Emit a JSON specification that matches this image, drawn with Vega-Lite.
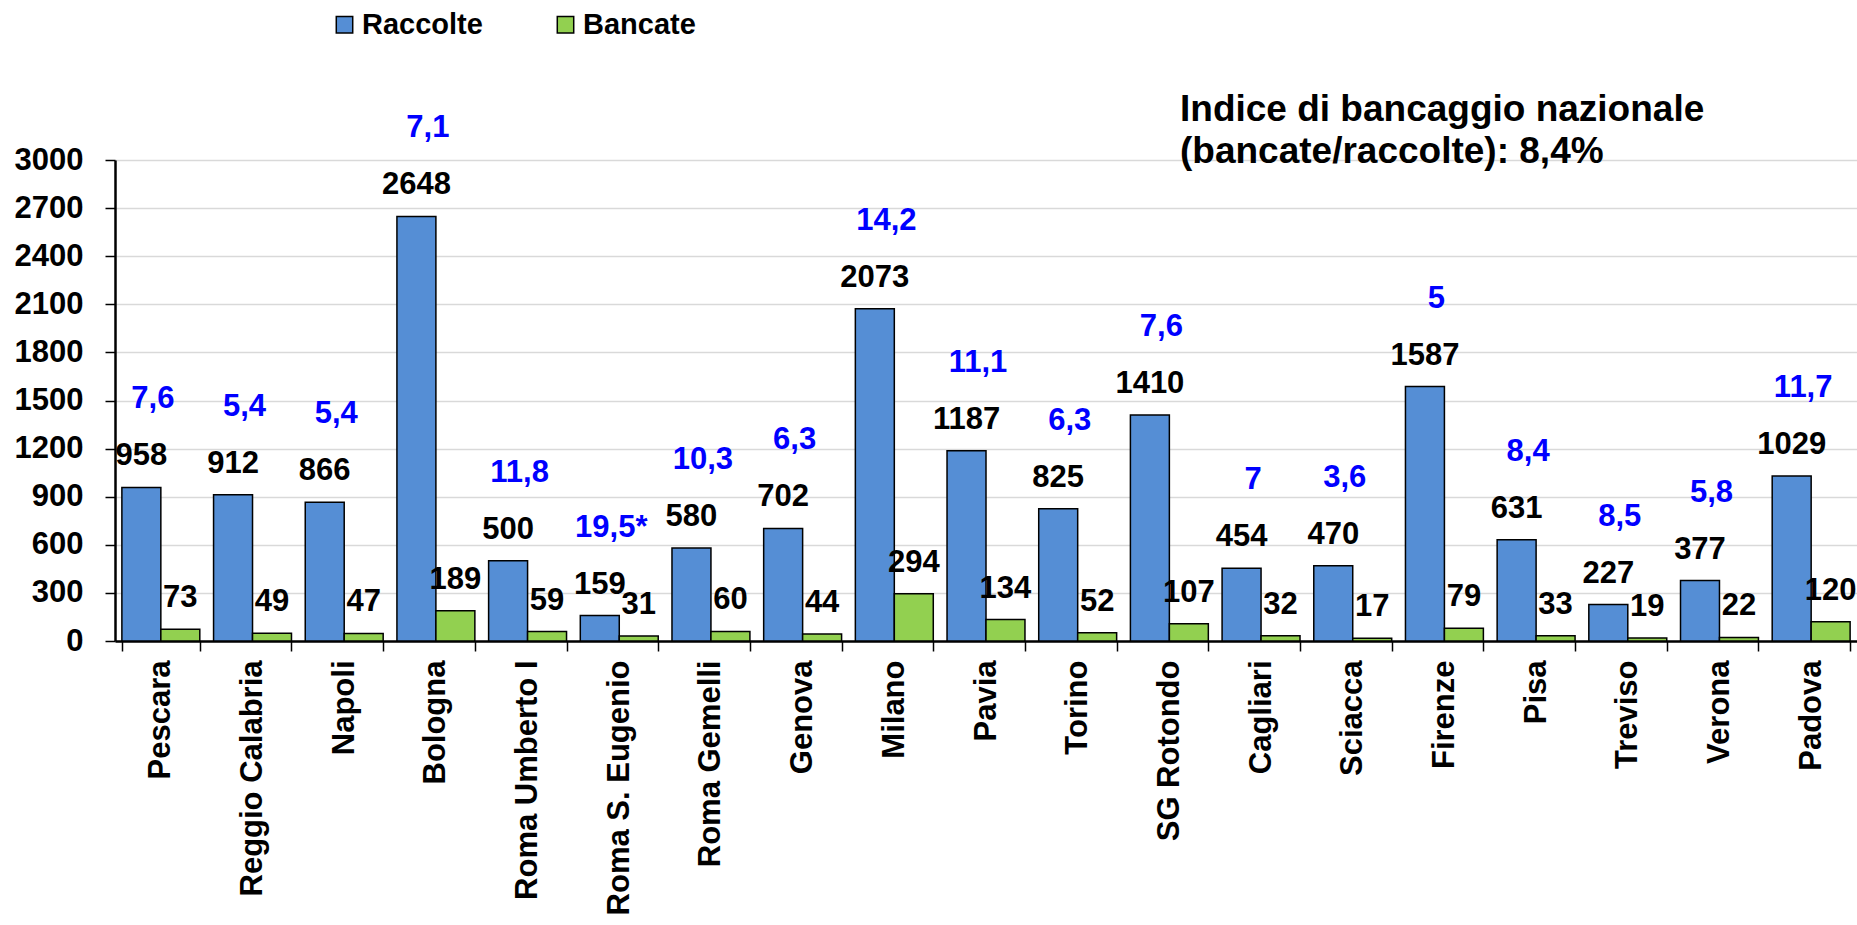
{
  "$schema": "https://vega.github.io/schema/vega-lite/v6.json",
  "autosize": {"type": "none"},
  "padding": {"left": 115, "top": 160, "right": 0, "bottom": 284},
  "width": 1742,
  "height": 481,
  "background": "white",
  "title": {
    "text": ["Indice di bancaggio nazionale", "(bancate/raccolte): 8,4%"],
    "anchor": "start",
    "frame": "group",
    "orient": "top",
    "dx": 1065,
    "dy": 161,
    "offset": 0,
    "baseline": "top",
    "font": "Liberation Sans",
    "fontSize": 37,
    "fontWeight": "bold",
    "lineHeight": 42,
    "color": "black"
  },
  "config": {
    "view": {"stroke": null},
    "font": "Liberation Sans"
  },
  "data": {
    "values": [
      {"citta": "Pescara", "serie": "Raccolte", "valore": 958, "indice": "7,6"},
      {"citta": "Pescara", "serie": "Bancate", "valore": 73},
      {"citta": "Reggio Calabria", "serie": "Raccolte", "valore": 912, "indice": "5,4"},
      {"citta": "Reggio Calabria", "serie": "Bancate", "valore": 49},
      {"citta": "Napoli", "serie": "Raccolte", "valore": 866, "indice": "5,4"},
      {"citta": "Napoli", "serie": "Bancate", "valore": 47},
      {"citta": "Bologna", "serie": "Raccolte", "valore": 2648, "indice": "7,1"},
      {"citta": "Bologna", "serie": "Bancate", "valore": 189},
      {"citta": "Roma Umberto I", "serie": "Raccolte", "valore": 500, "indice": "11,8"},
      {"citta": "Roma Umberto I", "serie": "Bancate", "valore": 59},
      {"citta": "Roma S. Eugenio", "serie": "Raccolte", "valore": 159, "indice": "19,5*"},
      {"citta": "Roma S. Eugenio", "serie": "Bancate", "valore": 31},
      {"citta": "Roma Gemelli", "serie": "Raccolte", "valore": 580, "indice": "10,3"},
      {"citta": "Roma Gemelli", "serie": "Bancate", "valore": 60},
      {"citta": "Genova", "serie": "Raccolte", "valore": 702, "indice": "6,3"},
      {"citta": "Genova", "serie": "Bancate", "valore": 44},
      {"citta": "Milano", "serie": "Raccolte", "valore": 2073, "indice": "14,2"},
      {"citta": "Milano", "serie": "Bancate", "valore": 294},
      {"citta": "Pavia", "serie": "Raccolte", "valore": 1187, "indice": "11,1"},
      {"citta": "Pavia", "serie": "Bancate", "valore": 134},
      {"citta": "Torino", "serie": "Raccolte", "valore": 825, "indice": "6,3"},
      {"citta": "Torino", "serie": "Bancate", "valore": 52},
      {"citta": "SG Rotondo", "serie": "Raccolte", "valore": 1410, "indice": "7,6"},
      {"citta": "SG Rotondo", "serie": "Bancate", "valore": 107},
      {"citta": "Cagliari", "serie": "Raccolte", "valore": 454, "indice": "7"},
      {"citta": "Cagliari", "serie": "Bancate", "valore": 32},
      {"citta": "Sciacca", "serie": "Raccolte", "valore": 470, "indice": "3,6"},
      {"citta": "Sciacca", "serie": "Bancate", "valore": 17},
      {"citta": "Firenze", "serie": "Raccolte", "valore": 1587, "indice": "5"},
      {"citta": "Firenze", "serie": "Bancate", "valore": 79},
      {"citta": "Pisa", "serie": "Raccolte", "valore": 631, "indice": "8,4"},
      {"citta": "Pisa", "serie": "Bancate", "valore": 33},
      {"citta": "Treviso", "serie": "Raccolte", "valore": 227, "indice": "8,5"},
      {"citta": "Treviso", "serie": "Bancate", "valore": 19},
      {"citta": "Verona", "serie": "Raccolte", "valore": 377, "indice": "5,8"},
      {"citta": "Verona", "serie": "Bancate", "valore": 22},
      {"citta": "Padova", "serie": "Raccolte", "valore": 1029, "indice": "11,7"},
      {"citta": "Padova", "serie": "Bancate", "valore": 120}
    ]
  },
  "encoding": {
    "x": {
      "field": "citta",
      "type": "nominal",
      "sort": null,
      "scale": {"paddingInner": 0.15, "paddingOuter": 0.075},
      "axis": {
        "title": null,
        "labelAngle": -90,
        "labelAlign": "right",
        "labelBaseline": "middle",
        "labelFont": "Liberation Sans",
        "labelFontSize": 31,
        "labelFontWeight": "bold",
        "labelColor": "black",
        "labelLimit": 0,
        "labelOverlap": false,
        "labelPadding": 9,
        "tickBand": "extent",
        "tickSize": 10,
        "tickColor": "black",
        "tickWidth": 1.5,
        "domainColor": "black",
        "domainWidth": 2.5,
        "grid": false
      }
    },
    "y": {
      "field": "valore",
      "type": "quantitative",
      "scale": {"domain": [0, 3000], "nice": false},
      "axis": {
        "title": null,
        "values": [0, 300, 600, 900, 1200, 1500, 1800, 2100, 2400, 2700, 3000],
        "format": "d",
        "labelFont": "Liberation Sans",
        "labelFontSize": 31,
        "labelFontWeight": "bold",
        "labelColor": "black",
        "labelPadding": 22,
        "tickSize": 10,
        "tickColor": "black",
        "tickWidth": 1.5,
        "domainColor": "black",
        "domainWidth": 2.5,
        "grid": true,
        "gridColor": "#d9d9d9",
        "gridWidth": 1.5
      }
    }
  },
  "layer": [
    {
      "mark": {"type": "bar", "stroke": "black", "strokeWidth": 1.5},
      "encoding": {
        "xOffset": {
          "field": "serie",
          "sort": ["Raccolte", "Bancate"],
          "scale": {"domain": ["Raccolte", "Bancate"], "paddingInner": 0, "paddingOuter": 0}
        },
        "color": {
          "field": "serie",
          "type": "nominal",
          "scale": {"domain": ["Raccolte", "Bancate"], "range": ["#558ED5", "#92D050"]},
          "legend": {
            "title": null,
            "orient": "none",
            "legendX": 215,
            "legendY": -150,
            "direction": "horizontal",
            "padding": 0,
            "symbolType": "square",
            "symbolSize": 270,
            "symbolStrokeColor": "black",
            "symbolStrokeWidth": 1.5,
            "symbolOpacity": 1,
            "labelFont": "Liberation Sans",
            "labelFontSize": 29,
            "labelFontWeight": "bold",
            "labelColor": "black",
            "labelOffset": 3,
            "labelLimit": 0,
            "columnPadding": 68
          }
        }
      }
    },
    {
      "mark": {"type": "text", "baseline": "middle", "dy": -31, "font": "Liberation Sans", "fontSize": 31, "fontWeight": "bold", "color": "black"},
      "encoding": {
        "xOffset": {
          "field": "serie",
          "sort": ["Raccolte", "Bancate"],
          "scale": {"domain": ["Raccolte", "Bancate"], "paddingInner": 0, "paddingOuter": 0}
        },
        "text": {"field": "valore", "type": "quantitative", "format": "d"}
      }
    },
    {
      "transform": [{"filter": "datum.serie === 'Raccolte'"}],
      "mark": {"type": "text", "baseline": "middle", "dy": -88, "dx": -8, "font": "Liberation Sans", "fontSize": 31, "fontWeight": "bold", "color": "#0000FF"},
      "encoding": {
        "text": {"field": "indice", "type": "nominal"}
      }
    }
  ]
}
